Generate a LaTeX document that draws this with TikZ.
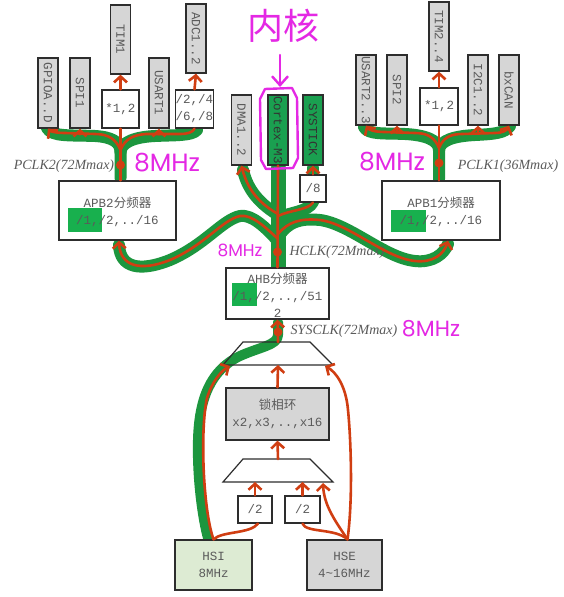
\documentclass[tikz,border=0pt]{standalone}
\usepackage{fontspec}
\setmainfont{Liberation Serif}
\newfontfamily\monof{Liberation Mono}
\newfontfamily\cjkf{Noto Sans CJK SC}
\newfontfamily\handf{Poppins}
\usetikzlibrary{arrows.meta}
\definecolor{redc}{RGB}{208,62,18}
\definecolor{greenc}{RGB}{28,150,62}
\definecolor{hlgreen}{RGB}{24,176,78}
\definecolor{boxgreen}{RGB}{26,160,80}
\definecolor{magc}{RGB}{228,40,228}
\definecolor{graybox}{RGB}{214,214,214}
\definecolor{hsifill}{RGB}{221,235,211}
\definecolor{boxline}{RGB}{45,45,45}
\definecolor{txt}{RGB}{90,90,90}
\tikzset{
 vbox/.style={draw=boxline, line width=1.3pt, fill=graybox, rotate=-90, minimum height=20pt, inner sep=0pt, font=\monof\fontsize{12.5}{12.5}\selectfont, text=txt},
 wbox/.style={draw=boxline, line width=1.3pt, fill=white, inner sep=0pt},
 txtn/.style={text=txt, align=center, font=\monof\fontsize{12.5}{17}\selectfont, inner sep=0pt},
 clk/.style={text=txt, font=\itshape\fontsize{14}{14}\selectfont, inner sep=0pt},
 gband/.style={draw=greenc, line width=12pt, line cap=round, line join=round},
 rline/.style={draw=redc, line width=2.6pt, line cap=round, line join=round},
 rarr/.style={rline, -{Straight Barb[length=6pt, width=13pt, line width=2.6pt]}},
 magline/.style={draw=magc, line width=2.4pt, line cap=round, line join=round},
 hand/.style={text=magc, font=\handf\fontsize{25}{25}\selectfont, inner sep=0pt},
 rdot/.style={circle, fill=redc, minimum size=9pt, inner sep=0pt},
}
\begin{document}
\begin{tikzpicture}[x=1pt,y=-1pt]
\useasboundingbox (0,0) rectangle (564,597);
\fill[white] (0,0) rectangle (564,597);

% ---------- green bands ----------
\draw[gband] (47,128) .. controls (52,137) and (70,135) .. (95,136) .. controls (112,137) and (120.5,142) .. (120.5,152) -- (120.5,178);
\draw[gband] (120.5,152) .. controls (121,142) and (135,137) .. (155,136) .. controls (175,135) and (192,136) .. (197,130);
\draw[gband] (364,127) .. controls (368,135) and (385,133) .. (405,134) .. controls (425,135) and (439,140) .. (439,150) -- (439,179);
\draw[gband] (439,150) .. controls (440,140) and (455,136) .. (475,135) .. controls (495,134) and (505,133) .. (510,126);
\draw[gband, line width=15pt] (278,272) -- (278,168);
\draw[gband] (278,215) .. controls (262,205) and (248,192) .. (243,170);
\draw[gband] (278,218) .. controls (290,212) and (308,212) .. (313,202);
\draw[gband] (313,176) -- (313,168);
\draw[gband] (277,240) .. controls (266,228) and (252,214) .. (240,216) .. controls (222,220) and (205,245) .. (170,260) .. controls (140,272) and (120,268) .. (119,245);
\draw[gband] (279,236) .. controls (288,222) and (300,218) .. (320,220) .. controls (350,224) and (385,258) .. (415,261) .. controls (433,263) and (444,254) .. (448,244);
\draw[gband, line width=10pt] (208,538) .. controls (203,520) and (197,480) .. (198,440) .. controls (199,400) and (210,370) .. (240,356) .. controls (260,347) and (278,345) .. (278,335) -- (278,322);

% ---------- top-left group ----------
\node[vbox, minimum width=70pt] (gpio) at (48,93) {GPIOA..D};
\node[vbox, minimum width=70pt] (spi1) at (80,93) {SPI1};
\node[vbox, minimum width=69pt] (tim1) at (120.5,39.5) {TIM1};
\node[wbox, minimum width=37pt, minimum height=38pt, txtn] (mul1) at (120.5,109) {*1,2};
\node[vbox, minimum width=70pt] (usart1) at (159,93) {USART1};
\node[vbox, minimum width=69pt] (adc) at (196,38.5) {ADC1..2};
\node[wbox, minimum width=37pt, minimum height=38pt, txtn] (div2468) at (194.5,109) {/2,/4\\/6,/8};

% ---------- centre group ----------
\node[vbox, minimum width=70pt] (dma) at (241.5,130) {DMA1..2};
\node[vbox, minimum width=70pt, fill=boxgreen, text=black!80] (cortex) at (278,130) {Cortex-M3};
\node[vbox, minimum width=70pt, fill=boxgreen, text=black!80] (systick) at (313,130) {SYSTICK};
\node[wbox, minimum width=26pt, minimum height=27pt, txtn] (div8) at (313,188.5) {/8};

% ---------- top-right group ----------
\node[vbox, minimum width=70pt] (usart23) at (366,90) {USART2..3};
\node[vbox, minimum width=70pt] (spi2) at (397,90) {SPI2};
\node[vbox, minimum width=69pt] (tim24) at (439,36.5) {TIM2..4};
\node[wbox, minimum width=38pt, minimum height=37pt, txtn] (mul2) at (439,106.5) {*1,2};
\node[vbox, minimum width=70pt] (i2c) at (478,90) {I2C1..2};
\node[vbox, minimum width=70pt] (bxcan) at (509,90) {bxCAN};

% ---------- prescalers ----------
\node[wbox, minimum width=117pt, minimum height=59pt] (apb2) at (117.5,210.5) {};
\node[wbox, minimum width=118pt, minimum height=59pt] (apb1) at (441,210.5) {};
\node[wbox, minimum width=103pt, minimum height=51pt] (ahb) at (277.5,293.5) {};
\fill[hlgreen] (68,208) rectangle (102,232);
\fill[hlgreen] (391,210) rectangle (426,232);
\fill[hlgreen] (232,283) rectangle (257,306);
\node[txtn] (apb2t) at (117.5,212) {APB2{\cjkf 分频器}\\/1,/2,../16};
\node[txtn] (apb1t) at (441,212) {APB1{\cjkf 分频器}\\/1,/2,../16};
\node[txtn] (ahbt) at (277.5,295) {AHB{\cjkf 分频器}\\/1,/2,..,/51\\2};

% ---------- bottom ----------
\draw[draw=boxline, line width=1.2pt] (243,342) -- (310,342) -- (333,365) -- (223,365) -- cycle;
\draw[draw=boxline, line width=1.2pt] (243,459) -- (310,459) -- (333,482) -- (223,482) -- cycle;
\coordinate (m1t) at (278,342);
\coordinate (m1b) at (278,365);
\coordinate (m2t) at (278,459);
\coordinate (m2b) at (278,482);
\node[wbox, fill=graybox, minimum width=103pt, minimum height=52pt, txtn] (pll) at (277.5,414) {{\cjkf 锁相环}\\x2,x3,..,x16};
\node[wbox, minimum width=34pt, minimum height=27pt, txtn] (div2a) at (255,509.5) {/2};
\node[wbox, minimum width=35pt, minimum height=27pt, txtn] (div2b) at (302.5,509.5) {/2};
\node[wbox, fill=hsifill, minimum width=77pt, minimum height=50pt, txtn] (hsi) at (213.5,565) {HSI\\8MHz};
\node[wbox, fill=graybox, minimum width=75pt, minimum height=50pt, txtn] (hse) at (344.5,565) {HSE\\4\textasciitilde16MHz};

% ---------- clock labels ----------
\node[clk] (pclk2) at (64,166) {PCLK2(72Mmax)};
\node[clk] (pclk1) at (508,166) {PCLK1(36Mmax)};
\node[clk] (hclk) at (337,252) {HCLK(72Mmax)};
\node[clk] (sysclk) at (344,331) {SYSCLK(72Mmax)};

% ---------- red connectors: top-left ----------
\draw[rline] (mul1.south |- apb2.north) -- (mul1.south);
\draw[rarr] (120.5,150) .. controls (116,139) and (108,134) .. (95,134) -- (65,133) .. controls (55,133) and (50,131) .. (gpio.east);
\draw[rarr] (80,134.5) -- (spi1.east);
\draw[rline] (120.5,150) .. controls (125,139) and (133,135) .. (146,134) -- (180,134) .. controls (188,134) and (193,132) .. (div2468.south);
\draw[rarr] (159,134.5) -- (usart1.east);
\draw[rarr] (mul1.north) -- (tim1.east);
\draw[rarr] (div2468.north) -- (adc.east);
\node[rdot] (dotl) at (120.5,165) {};

% ---------- red connectors: top-right ----------
\draw[rline] (mul2.south |- apb1.north) -- (mul2.south);
\draw[rarr] (439,148) .. controls (435,138) and (428,133) .. (415,133) -- (385,132) .. controls (375,132) and (369,130) .. (usart23.east);
\draw[rarr] (397,133) -- (spi2.east);
\draw[rarr] (439,148) .. controls (443,138) and (450,134) .. (462,134) -- (495,133) .. controls (503,133) and (507,130) .. (bxcan.east);
\draw[rarr] (478,133.5) -- (i2c.east);
\draw[rarr] (mul2.north) -- (tim24.east);
\node[rdot] (dotr) at (439,163) {};

% ---------- red connectors: centre ----------
\draw[rline] (ahb.north) -- (cortex.east);
\draw[rarr] (278,214) .. controls (262,205) and (248,192) .. (dma.east);
\draw[rline] (278,216) .. controls (290,210) and (308,210) .. (div8.south);
\draw[rarr] (div8.north) -- (systick.east);
\draw[rarr] (277,238) .. controls (266,228) and (252,214) .. (240,216) .. controls (222,220) and (205,245) .. (170,260) .. controls (140,272) and (120,266) .. ([xshift=1.5pt]apb2.south);
\draw[rarr] (278,234) .. controls (288,222) and (300,218) .. (320,220) .. controls (350,224) and (385,258) .. (415,261) .. controls (433,263) and (444,254) .. ([xshift=7pt]apb1.south);
\node[rdot] (doth) at (277.5,252) {};

% ---------- red connectors: bottom ----------
\draw[rarr] (m1t) -- (ahb.south);
\node[rdot] (dots) at (278,332) {};
\draw[rarr] (pll.north) -- (m1b);
\draw[rarr] (m2t) -- (pll.south);
\draw[rarr] (div2a.north) -- (div2a.north |- m2b);
\draw[rarr] (div2b.north) -- (div2b.north |- m2b);
\draw[rarr] (hsi.north) .. controls (203,510) and (200,430) .. (207,398) .. controls (212,382) and (221,371) .. (230,366);
\draw[rline] (hsi.north) .. controls (222,531) and (250,534) .. ([xshift=3pt]div2a.south);
\draw[rline] ([xshift=3pt]hse.north) .. controls (335,528) and (306,533) .. (div2b.south);
\draw[rarr] ([xshift=3pt]hse.north) .. controls (336,522) and (324,506) .. (323,483);
\draw[rarr] ([xshift=3pt]hse.north) .. controls (353,500) and (351,440) .. (348,410) .. controls (346,386) and (336,372) .. (325,366);

% ---------- magenta annotations ----------
\node[hand, font=\cjkf\fontsize{36}{36}\selectfont] (neihe) at (283,26) {内核};
\coordinate (pa) at (280,55);
\coordinate (pb) at (280,87);
\draw[magline, -{Straight Barb[length=9pt, width=16pt, line width=2.4pt]}] (pa) -- (pb);
\draw[magline] (265,89) -- (292,88) -- (297,98) -- (298,158) -- (293,168) -- (266,169) -- (261,160) -- (260,99) -- cycle;
\node[hand] (f1) at (167,163) {8MHz};
\node[hand] (f2) at (392,162) {8MHz};
\node[hand, font=\handf\fontsize{17}{17}\selectfont] (f3) at (240,250) {8MHz};
\node[hand, font=\handf\fontsize{22}{22}\selectfont] (f4) at (431,329) {8MHz};
\end{tikzpicture}
\end{document}
